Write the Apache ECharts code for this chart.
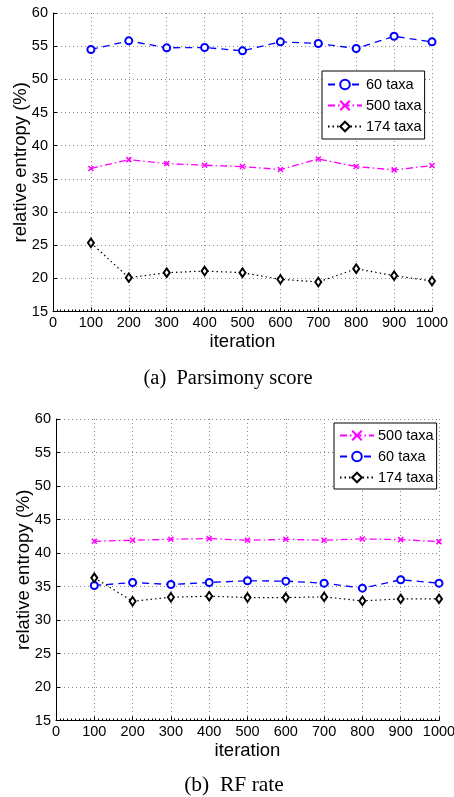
<!DOCTYPE html>
<html><head><meta charset="utf-8">
<script src="https://cdn.jsdelivr.net/npm/echarts@6/dist/echarts.min.js"></script>
<style>html,body{margin:0;padding:0;background:#fff}#c{width:454px;height:797px}</style>
</head><body><div id="c"></div>
<script>
const iterations = [100,200,300,400,500,600,700,800,900,1000];
const xTicks = [0,100,200,300,400,500,600,700,800,900,1000];
const yTicks = [15,20,25,30,35,40,45,50,55,60];
// (a) Parsimony score
const a_60  = [54.5,55.8,54.75,54.8,54.3,55.65,55.4,54.65,56.5,55.65];
const a_500 = [36.55,37.9,37.3,37.05,36.85,36.4,38.0,36.85,36.35,37.0];
const a_174 = [25.35,20.1,20.85,21.1,20.85,19.85,19.45,21.45,20.4,19.6];
// (b) RF rate
const b_500 = [41.75,41.9,42.05,42.15,41.9,42.05,41.9,42.1,42.0,41.7];
const b_60  = [35.15,35.6,35.3,35.6,35.85,35.8,35.5,34.75,36.0,35.5];
const b_174 = [36.3,32.8,33.4,33.55,33.35,33.35,33.45,32.85,33.15,33.15];

const pairs = v => iterations.map((x,i)=>[x,v[i]]);
const FONT = 'Liberation Sans';
const crossPath = 'path://M0,0L10,10M10,0L0,10';

const styles = {
  '60 taxa': {color:'#0000ff', line:{type:[7,5],width:1.3}, symbol:'emptyCircle', size:7, item:{color:'#0000ff',borderColor:'#0000ff',borderWidth:1.3}},
  '500 taxa': {color:'#ff00ff', line:{type:[7,3,1.5,3],width:1.3}, symbol:crossPath, size:5, item:{color:'rgba(0,0,0,0)',borderColor:'#ff00ff',borderWidth:1.5}},
  '174 taxa': {color:'#000000', line:{type:[1.5,3],width:1.2}, symbol:'emptyDiamond', size:[6,8.5], item:{color:'#000',borderColor:'#000',borderWidth:1.6}}
};
function mk(name, data, idx){
  const s = styles[name];
  return {name, type:'line', xAxisIndex:idx, yAxisIndex:idx, data:pairs(data),
    symbol:s.symbol, symbolSize:s.size, showAllSymbol:true,
    lineStyle:{color:s.color, type:s.line.type, width:s.line.width},
    itemStyle:s.item, emphasis:{disabled:true}, animation:false};
}
function xAx(idx){
  return {type:'value', gridIndex:idx, min:xTicks[0], max:xTicks[xTicks.length-1], interval:100,
    axisLine:{show:true, onZero:false, lineStyle:{color:'#000',width:1}},
    axisTick:{show:true, inside:true, length:4, lineStyle:{color:'#000'}},
    minorTick:{show:true, splitNumber:10, length:2, lineStyle:{color:'#000'}},
    axisLabel:{color:'#000', fontFamily:FONT, fontSize:14.5, margin:4, formatter: v => String(v)},
    splitLine:{show:true, lineStyle:{color:'#888', type:[1,3], width:1}},
    name:'iteration', nameLocation:'middle', nameGap:21,
    nameTextStyle:{color:'#000', fontFamily:FONT, fontSize:18.5}};
}
function yAx(idx){
  return {type:'value', gridIndex:idx, min:yTicks[0], max:yTicks[yTicks.length-1], interval:5,
    axisLine:{show:true, lineStyle:{color:'#000',width:1}},
    axisTick:{show:true, inside:true, length:4, lineStyle:{color:'#000'}},
    axisLabel:{color:'#000', fontFamily:FONT, fontSize:14.5, margin:5},
    splitLine:{show:true, lineStyle:{color:'#888', type:[1,3], width:1}},
    name:'relative entropy (%)', nameLocation:'middle', nameGap:23, nameMoveOverlap:false,
    nameTextStyle:{color:'#000', fontFamily:FONT, fontSize:18.5}};
}
const legendCommon = {orient:'vertical', itemWidth:34, itemHeight:12, itemGap:6,
  backgroundColor:'#fff', borderColor:'#000', borderWidth:1,
  textStyle:{color:'#000', fontFamily:FONT, fontSize:14.5, padding:[0,0,0,-1]}};

const chart = echarts.init(document.getElementById('c'), null, {renderer:'canvas'});
chart.setOption({
  backgroundColor:'#fff', animation:false,
  grid:[{left:53, top:13, width:379, height:298.5, containLabel:false, outerBoundsMode:'none'},
        {left:56, top:419, width:383, height:301.5, containLabel:false, outerBoundsMode:'none'}],
  xAxis:[xAx(0), xAx(1)],
  yAxis:[yAx(0), yAx(1)],
  legend:[
    Object.assign({left:322, top:71, padding:[6,3,5,5], data:['60 taxa','500 taxa','174 taxa']}, legendCommon),
    Object.assign({left:334, top:423, padding:[5,3,4,5], itemGap:5.5, data:['500 taxa','60 taxa','174 taxa']}, legendCommon)
  ],
  title:[
    {text:'(a)  Parsimony score', left:228, top:368, textAlign:'center', padding:0,
     textStyle:{fontFamily:'Liberation Serif', fontSize:20.5, fontWeight:'normal', color:'#000'}},
    {text:'(b)  RF rate', left:234, top:774, textAlign:'center', padding:0,
     textStyle:{fontFamily:'Liberation Serif', fontSize:21.5, fontWeight:'normal', color:'#000'}}
  ],
  series:[
    mk('60 taxa', a_60, 0), mk('500 taxa', a_500, 0), mk('174 taxa', a_174, 0),
    mk('500 taxa', b_500, 1), mk('60 taxa', b_60, 1), mk('174 taxa', b_174, 1)
  ]
});
</script></body></html>
